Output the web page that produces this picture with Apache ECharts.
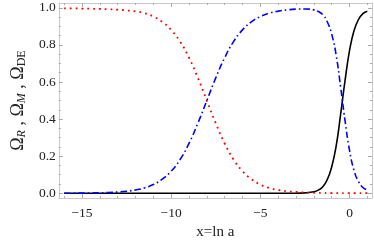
<!DOCTYPE html>
<html><head><meta charset="utf-8">
<script src="https://cdn.jsdelivr.net/npm/echarts@6/dist/echarts.min.js"></script>
<style>html,body{margin:0;padding:0;background:#fff}#c{width:374px;height:245px}</style>
</head><body><div id="c"></div>
<script>
var xs = [-16,-15.5,-15,-14.5,-14,-13.5,-13,-12.5,-12,-11.5,-11,-10.5,-10,-9.5,-9,-8.5,-8,-7.5,-7,-6.5,-6,-5.5,-5,-4.5,-4,-3.5,-3,-2.5,-2,-1.75,-1.5,-1.25,-1,-0.75,-0.5,-0.25,0,0.25,0.5,0.75,1];
var omegaR = [0.997,0.997,0.996,0.995,0.994,0.992,0.99,0.986,0.981,0.971,0.953,0.924,0.881,0.818,0.731,0.622,0.5,0.378,0.269,0.182,0.119,0.076,0.047,0.029,0.018,0.011,0.007,0.004,0.003,0.002,0.002,0.001,0.001,0.001,0.001,0.001,0.001,0.001,0.001,0.001,0.001];
var omegaM = [0.0003,0.0006,0.0009,0.0015,0.0025,0.0041,0.0067,0.011,0.018,0.029,0.047,0.076,0.119,0.182,0.269,0.378,0.5,0.622,0.731,0.818,0.881,0.924,0.953,0.971,0.982,0.989,0.993,0.994,0.989,0.98,0.963,0.925,0.858,0.745,0.574,0.39,0.231,0.124,0.063,0.031,0.018];
var omegaDE = [0,0,0,0,0,0,0,0,0,0,0,0,0,0,0,0,0,0,0,0,0,0,0,0,0,0,0,0.002,0.008,0.017,0.035,0.073,0.142,0.254,0.425,0.609,0.769,0.876,0.937,0.969,0.982];
var xMajor = [-15,-10,-5,0];
var xMinor = [-16,-14,-13,-12,-11,-9,-8,-7,-6,-4,-3,-2,-1,1];
var yMajor = [0,0.2,0.4,0.6,0.8,1.0];
var yMinor = [0.05,0.1,0.15,0.25,0.3,0.35,0.45,0.5,0.55,0.65,0.7,0.75,0.85,0.9,0.95];

function pts(y){ return xs.map(function(x,i){return [x,y[i]];}); }
var XMIN=-16.3, XMAX=1.26, YMIN=-0.026, YMAX=1.026;
var font = 'Liberation Serif, Times New Roman, serif';
var frame = {color:'#c8c8c8', width:1};
function xAx(pos, vals, len, labels, line){
  return {type:'value', position:pos, min:XMIN, max:XMAX,
    axisLine:{show:line, onZero:false, lineStyle:frame},
    axisTick:{show:true, inside:true, length:len, customValues:vals, lineStyle:{color:'#aaa'}},
    axisLabel:{show:labels, customValues:xMajor, margin:8, fontFamily:font, fontSize:13.5, color:'#222',
      formatter:function(v){return String(v).replace('-','\u2212');}},
    splitLine:{show:false},
    name: (labels ? 'x=ln a' : ''), nameLocation:'middle', nameGap:26,
    nameTextStyle:{fontFamily:font, fontSize:15, color:'#222'}};
}
function yAx(pos, vals, len, labels, line){
  return {type:'value', position:pos, min:YMIN, max:YMAX,
    axisLine:{show:line, onZero:false, lineStyle:frame},
    axisTick:{show:true, inside:true, length:len, customValues:vals, lineStyle:{color:'#aaa'}},
    axisLabel:{show:labels, customValues:yMajor, margin:3, fontFamily:font, fontSize:13.5, color:'#222',
      formatter:function(v){return v.toFixed(1);}},
    splitLine:{show:false},
    name: (labels ? '{o|\u03A9}{si|R}{o| , \u03A9}{si|M}{o| , \u03A9}{s|DE}' : ''),
    nameLocation:'middle', nameGap:26, nameRotate:90,
    nameTextStyle:{fontFamily:font, fontSize:18, color:'#222',
      rich:{o:{fontFamily:font, fontSize:18, color:'#222', lineHeight:20},
            si:{fontFamily:font, fontSize:12, fontStyle:'italic', color:'#222', padding:[8,0,0,0], lineHeight:20},
            s:{fontFamily:font, fontSize:12, color:'#222', padding:[8,0,0,0], lineHeight:20}}}};
}
var chart = echarts.init(document.getElementById('c'), null, {renderer:'canvas'});
chart.setOption({
  animation:false,
  backgroundColor:'#fff',
  grid:{left:39, right:2, top:3, bottom:38, containLabel:false},
  xAxis:[xAx('bottom', xMajor, 4, true, true), xAx('bottom', xMinor, 2, false, false),
         xAx('top', xMajor, 4, false, true), xAx('top', xMinor, 2, false, false)],
  yAxis:[yAx('left', yMajor, 4, true, true), yAx('left', yMinor, 2, false, false),
         yAx('right', yMajor, 4, false, true), yAx('right', yMinor, 2, false, false)],
  series:[
    {type:'line', name:'DE', data:pts(omegaDE), showSymbol:false, smooth:true,
     lineStyle:{color:'#000', width:1.6}},
    {type:'line', name:'R', data:pts(omegaR), showSymbol:false, smooth:true,
     lineStyle:{color:'#ff0000', width:1.8, type:[1.8,4]}},
    {type:'line', name:'M', data:pts(omegaM), showSymbol:false, smooth:true,
     lineStyle:{color:'#0000ff', width:1.6, type:[6.5,3,1.6,3]}}
  ]
});
</script></body></html>
